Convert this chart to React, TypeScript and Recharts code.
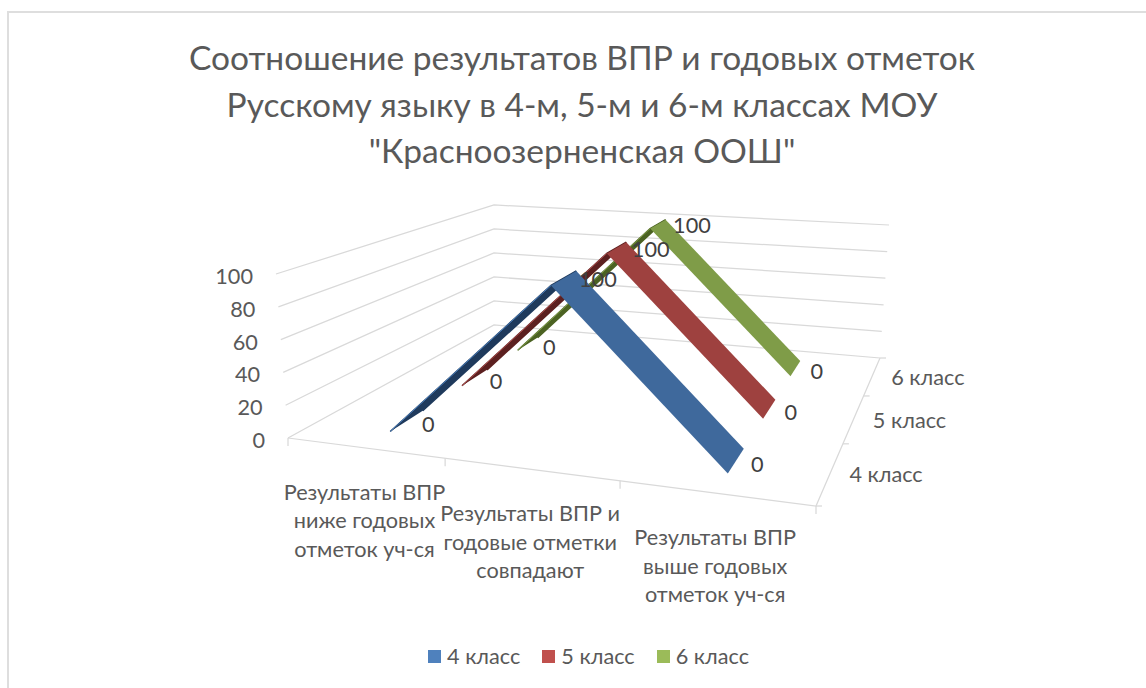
import { Scatter, ScatterChart, XAxis, YAxis } from "recharts";

const WIDTH = 1146;
const HEIGHT = 688;
const FONT = "Lato, 'Open Sans', sans-serif";
const LABEL_SIZE = 21.7;

const categories = [
  ["Результаты ВПР", "ниже годовых", "отметок уч-ся"],
  ["Результаты ВПР и", "годовые отметки", "совпадают"],
  ["Результаты ВПР", "выше годовых", "отметок уч-ся"],
];
const seriesNames = ["4 класс", "5 класс", "6 класс"];
const class4 = [0, 100, 0];
const class5 = [0, 100, 0];
const class6 = [0, 100, 0];
const seriesValues = [class4, class5, class6];
const valueTicks = [0, 20, 40, 60, 80, 100];
const titleLines = [
  "Соотношение результатов ВПР и годовых отметок",
  "Русскому языку в 4-м, 5-м и 6-м классах МОУ",
  "\"Красноозерненская ООШ\"",
];

const faceColors = ["#3f699c", "#9e413f", "#7f9c48"];
const backColors = ["#1f3a5c", "#5c2020", "#4b6222"];
const edgeColors = ["#4a7ebb", "#a84a48", "#7f9c48"];
const legendColors = ["#4f81bd", "#c0504d", "#9bbb59"];
const GRID = "#d9d9d9";

// box corners of the 3d plot as drawn, [x, y] in pixels
const floorFL = [288, 438];
const floorFR = [816, 506];
const floorBL = [494, 325];
const floorBR = [880, 358];
const topFL = [276, 274];
const topFR = [832, 324];
const topBL = [494, 205];
const topBR = [889, 225];

const warpC = (t: number) => t / (t + 1.18 * (1 - t));
const warpD = (t: number) => t / (t + 0.69 * (1 - t));
const mix = (a: number[], b: number[], t: number) => [a[0] + (b[0] - a[0]) * t, a[1] + (b[1] - a[1]) * t];

// c = along categories, d = along series depth (both 0..1), v = value 0..100
const project = (c: number, d: number, v: number) => {
  const fc = warpC(c);
  const fd = warpD(d);
  const bottom = mix(mix(floorFL, floorFR, fc), mix(floorBL, floorBR, fc), fd);
  const top = mix(mix(topFL, topFR, fc), mix(topBL, topBR, fc), fd);
  const [x, y] = mix(bottom, top, v / 100);
  return { x, y };
};

const catPos = (i: number) => (i + 0.5) / categories.length;
const RIBBON_FROM = 0.1;
const RIBBON_TO = 0.24;

const face = (s: number, i: number) => {
  const d0 = s / seriesValues.length + RIBBON_FROM;
  const d1 = s / seriesValues.length + RIBBON_TO;
  const v = seriesValues[s];
  return [
    project(catPos(i), d0, v[i]),
    project(catPos(i + 1), d0, v[i + 1]),
    project(catPos(i + 1), d1, v[i + 1]),
    project(catPos(i), d1, v[i]),
  ];
};

const gridLines = [
  ...valueTicks.map((v) => [project(0, 0, v), project(0, 1, v), project(1, 1, v)]),
  [project(0, 0, 0), project(1, 0, 0), project(1, 1, 0)],
];

const categoryTicks = [0, 1 / 3, 2 / 3, 1].map((c) => {
  const p = project(c, 0, 0);
  return [p, { x: p.x, y: p.y + 8 }];
});
const depthTicks = [0, 1 / 3, 2 / 3, 1].map((d) => {
  const p = project(1, d, 0);
  return [p, { x: p.x + 6, y: p.y }];
});

const valueLabels = valueTicks.map((v) => ({ ...project(0, 0, v), text: String(v) }));
const categoryLabels = categories.map((lines, i) => ({ ...project(catPos(i), 0, 0), lines }));
const seriesLabels = seriesNames.map((text, s) => ({ ...project(1, (s + 0.5) / seriesNames.length, 0), text }));
const dataLabels = seriesValues.flatMap((vals, s) =>
  vals.map((v, i) => ({
    ...project(catPos(i), s / seriesValues.length + (RIBBON_FROM + RIBBON_TO) / 2, v),
    text: String(v),
  }))
);

const noMark = () => <g />;

const TickText = ({ cx, cy, payload, color = "#595959", dx = 0, dy = 0, anchor = "start" }: any) => (
  <text x={cx + dx} y={cy + dy} fill={color} fontSize={LABEL_SIZE} fontFamily={FONT} textAnchor={anchor} dominantBaseline="central">
    {payload.text}
  </text>
);

const CategoryText = ({ cx, cy, payload }: any) => (
  <text fill="#595959" fontSize={LABEL_SIZE} fontFamily={FONT} textAnchor="middle">
    {payload.lines.map((line: string, i: number) => (
      <tspan key={i} x={cx} y={cy + 52 + i * 28.5}>
        {line}
      </tspan>
    ))}
  </text>
);

export default function App() {
  return (
    <div style={{ position: "absolute", left: 0, top: 0, width: WIDTH, height: HEIGHT, background: "#fff", overflow: "hidden" }}>
      <div
        style={{
          position: "absolute",
          left: 7,
          top: 11,
          width: 1200,
          height: 720,
          border: "2px solid #dedede",
        }}
      />
      <div
        style={{
          position: "absolute",
          left: 82,
          top: 34,
          width: 1000,
          textAlign: "center",
          fontFamily: FONT,
          fontSize: 33.5,
          lineHeight: "46.5px",
          color: "#595959",
        }}
      >
        {titleLines.map((line) => (
          <div key={line}>{line}</div>
        ))}
      </div>
      <div style={{ position: "absolute", left: 0, top: 0 }}>
        <ScatterChart width={WIDTH} height={HEIGHT} margin={{ top: 0, right: 0, bottom: 0, left: 0 }}>
          <XAxis type="number" dataKey="x" domain={[0, WIDTH]} hide />
          <YAxis type="number" dataKey="y" domain={[0, HEIGHT]} reversed hide />
          {[...gridLines, ...categoryTicks, ...depthTicks].map((pts, i) => (
            <Scatter
              key={`grid-${i}`}
              data={pts}
              isAnimationActive={false}
              line={{ stroke: GRID, strokeWidth: 1.25, fill: "none" }}
              shape={noMark}
            />
          ))}
          {[2, 1, 0].flatMap((s) => [
            <Scatter
              key={`back-${s}`}
              data={face(s, 0)}
              isAnimationActive={false}
              line={{ fill: backColors[s], stroke: backColors[s], strokeWidth: 1.5 }}
              shape={noMark}
            />,
            <Scatter
              key={`edge-${s}`}
              data={face(s, 0).slice(0, 2)}
              isAnimationActive={false}
              line={{ fill: "none", stroke: edgeColors[s], strokeWidth: 1 }}
              shape={noMark}
            />,
            <Scatter
              key={`face-${s}`}
              data={face(s, 1)}
              isAnimationActive={false}
              line={{ fill: faceColors[s], stroke: "none" }}
              shape={noMark}
            />,
          ])}
          <Scatter
            data={valueLabels}
            isAnimationActive={false}
            shape={(p: any) => <TickText {...p} dx={-23} dy={2} anchor="end" />}
          />
          <Scatter data={categoryLabels} isAnimationActive={false} shape={(p: any) => <CategoryText {...p} />} />
          <Scatter data={seriesLabels} isAnimationActive={false} shape={(p: any) => <TickText {...p} dx={19} dy={1.5} />} />
          <Scatter
            data={dataLabels}
            isAnimationActive={false}
            shape={(p: any) => <TickText {...p} dx={15} dy={p.payload.text === "0" ? 3 : 1} color="#404040" />}
          />
        </ScatterChart>
      </div>
      <div
        style={{
          position: "absolute",
          left: 428,
          top: 642,
          display: "flex",
          fontFamily: FONT,
          fontSize: LABEL_SIZE,
          lineHeight: "28px",
          color: "#595959",
        }}
      >
        {seriesNames.map((name, i) => (
          <div key={name} style={{ display: "flex", alignItems: "center", marginRight: 22 }}>
            <span style={{ width: 13, height: 13, background: legendColors[i], marginRight: 6 }} />
            {name}
          </div>
        ))}
      </div>
    </div>
  );
}
